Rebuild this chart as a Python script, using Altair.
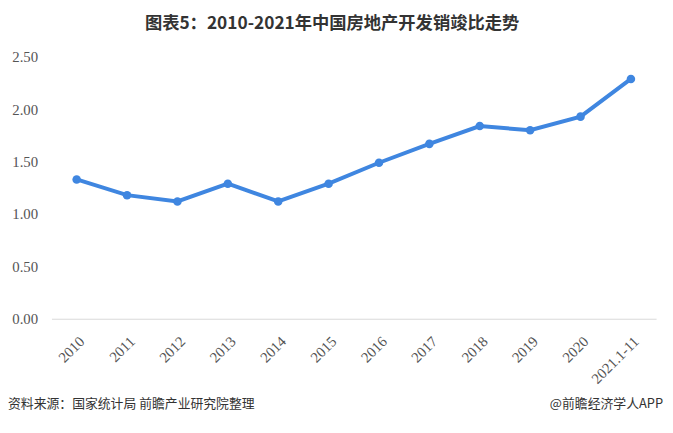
import altair as alt
import pandas as pd

years = ["2010", "2011", "2012", "2013", "2014", "2015", "2016", "2017",
         "2018", "2019", "2020", "2021.1-11"]
ratios = [1.33, 1.18, 1.12, 1.29, 1.12, 1.29, 1.49, 1.67, 1.84, 1.80, 1.93, 2.29]
y_ticks = [0, 0.5, 1.0, 1.5, 2.0, 2.5]

title_text = "图表5：2010-2021年中国房地产开发销竣比走势"
source_text = "资料来源：国家统计局 前瞻产业研究院整理"
brand_text = "@前瞻经济学人APP"

W, H = 612, 265
LINE_COLOR = "#3f86e0"

df = pd.DataFrame({"year": years, "ratio": ratios})
one = pd.DataFrame({"k": [0]})

line = alt.Chart(df).mark_line(
    color=LINE_COLOR, strokeWidth=4,
    point=alt.OverlayMarkDef(color=LINE_COLOR, size=75, filled=True, opacity=1)
).encode(
    x=alt.X("year:N", sort=years, title=None,
            axis=alt.Axis(labelAngle=-45, ticks=False, domain=True,
                          domainColor="#d9d9d9", domainWidth=1,
                          labelFont="Liberation Serif", labelFontSize=15,
                          labelColor="#555555", labelPadding=15, grid=False)),
    y=alt.Y("ratio:Q", title=None, scale=alt.Scale(domain=[0, 2.5]),
            axis=alt.Axis(values=y_ticks, format=".2f", domain=False, ticks=False,
                          grid=False, labelFont="Liberation Serif", labelFontSize=15,
                          labelColor="#555555", labelPadding=14)),
)

source = alt.Chart(one).mark_text(
    text=source_text, font="Noto Sans CJK SC", fontSize=13,
    color="#333333", align="left", baseline="middle"
).encode(x=alt.value(-44), y=alt.value(351))

brand = alt.Chart(one).mark_text(
    text=brand_text, font="Noto Sans CJK SC", fontSize=13,
    color="#333333", align="right", baseline="middle"
).encode(x=alt.value(619), y=alt.value(351))

chart = alt.layer(line, source, brand).properties(
    width=W, height=H,
    title=alt.TitleParams(text=title_text, font="Noto Sans CJK SC", fontWeight="bold",
                          fontSize=17.5, color="#333333", anchor="middle",
                          frame="group", dx=-22, offset=18),
    autosize=alt.AutoSizeParams(type="none"),
    padding={"left": 44, "top": 47, "right": 9, "bottom": 105},
    background="white",
).configure_view(stroke=None)

chart.save("out.html", embed_options={"renderer": "svg", "actions": False})
